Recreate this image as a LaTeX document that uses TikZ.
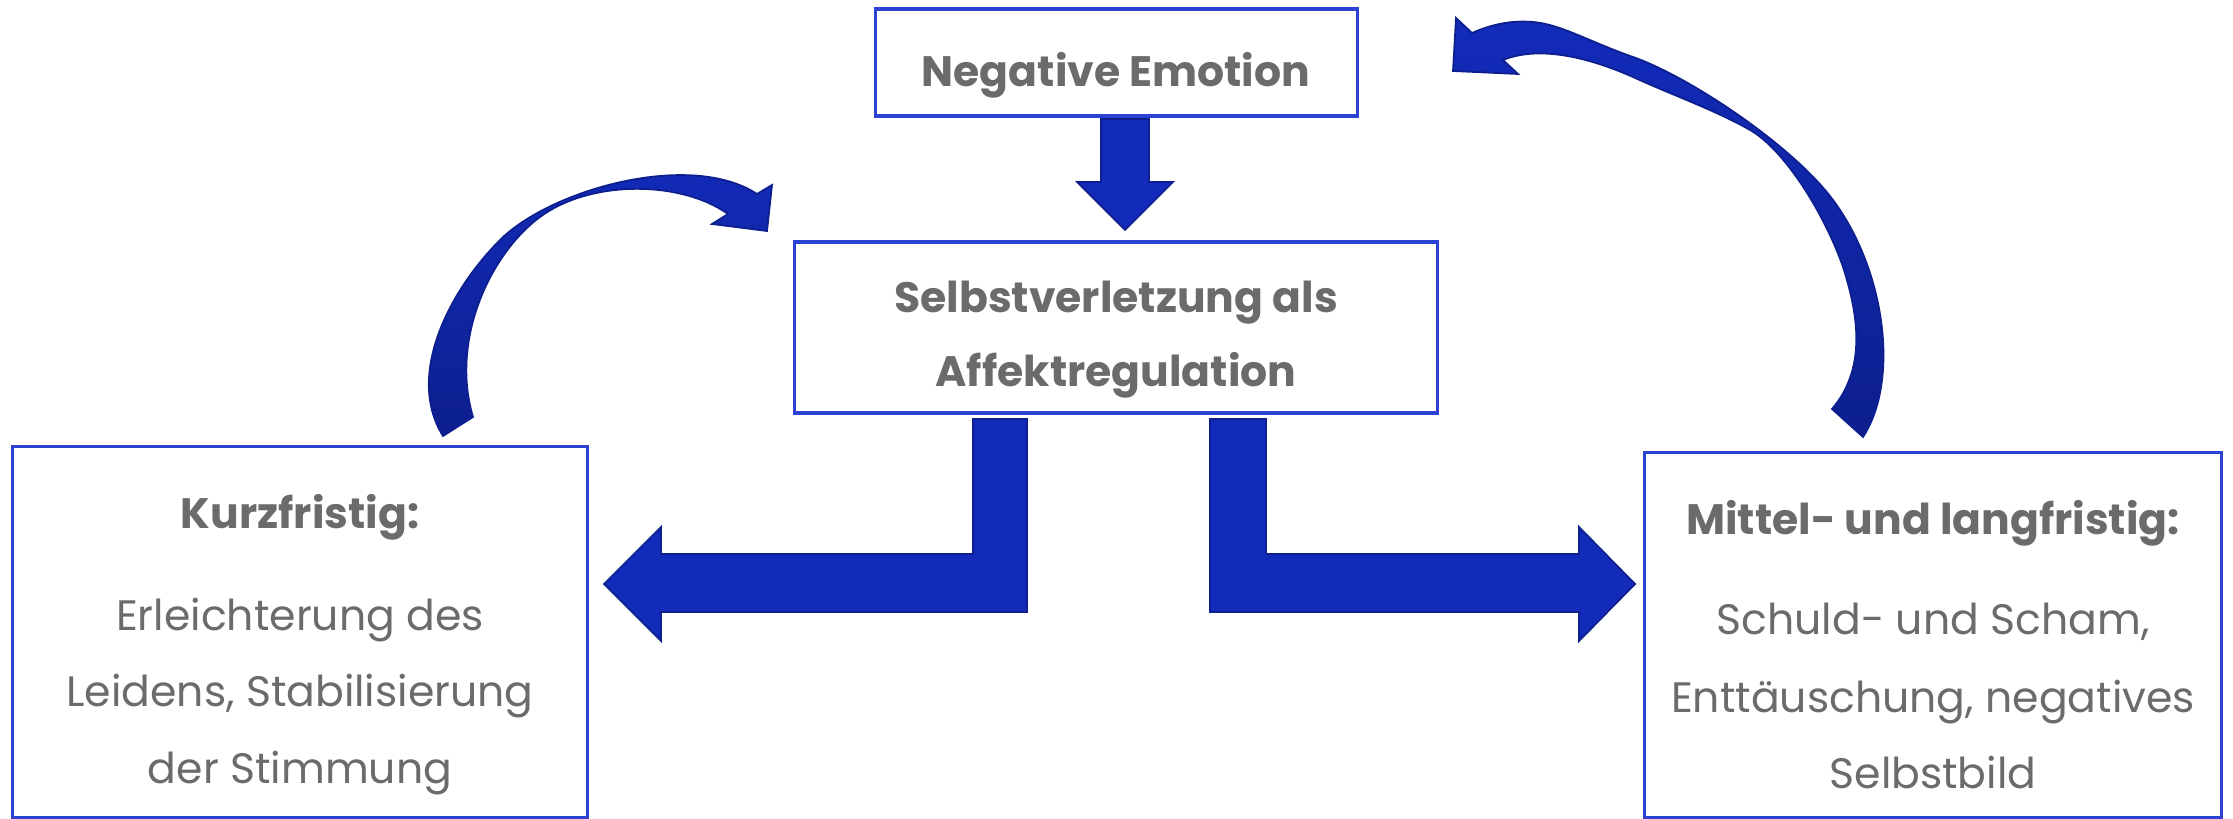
\documentclass[tikz,border=0pt]{standalone}
\usepackage{fontspec}
\setmainfont{Poppins}

\definecolor{boxline}{HTML}{2C42D2}
\definecolor{arrowfill}{HTML}{122BBA}
\definecolor{arrowdark}{HTML}{0D1F8E}
\definecolor{textgrey}{HTML}{6B6B6B}

\tikzset{
  box/.style={draw=boxline, line width=0.9pt, fill=white, inner sep=0pt},
  headtext/.style={anchor=base, text=textgrey, font=\fontsize{12.1}{15}\selectfont\bfseries},
  bodytext/.style={anchor=base, text=textgrey, font=\fontsize{12.1}{15}\selectfont},
  blockarrow/.style={fill=arrowfill, draw=arrowdark, line width=0.5pt, line join=miter},
  bentarrow/.style={top color=arrowfill, bottom color=arrowdark, draw=arrowdark, line width=0.5pt}
}

\begin{document}
\begin{tikzpicture}[x=0.01cm, y=-0.01cm]
\useasboundingbox (0,0) rectangle (2233,819);

% boxes
\node[box, minimum width=4.81cm, minimum height=1.07cm] (emotion) at (1116.5,62.5) {};
\node[box, minimum width=6.42cm, minimum height=1.71cm] (regulation) at (1116,327.5) {};
\node[box, minimum width=5.74cm, minimum height=3.70cm] (short) at (300,632) {};
\node[box, minimum width=5.76cm, minimum height=3.64cm] (long) at (1933,635) {};

% texts
\node[headtext] (emotiontext) at (1116,87) {Negative Emotion};
\node[headtext] (regtext1) at (1116,313) {Selbstverletzung als};
\node[headtext] (regtext2) at (1116,387) {Affektregulation};

\node[headtext] (shorthead) at (300,529) {Kurzfristig:};
\node[bodytext] (short1) at (300,631) {Erleichterung des};
\node[bodytext] (short2) at (300,707) {Leidens, Stabilisierung};
\node[bodytext] (short3) at (300,784) {der Stimmung};

\node[headtext] (longhead) at (1933,535) {Mittel- und langfristig:};
\node[bodytext] (long1) at (1933,635) {Schuld- und Scham,};
\node[bodytext] (long2) at (1933,712) {Enttäuschung, negatives};
\node[bodytext] (long3) at (1933,789) {Selbstbild};

% straight arrows
\draw[blockarrow] (1101,119) -- (1149,119) -- (1149,182) -- (1173,182) -- (1125,230)
  -- (1077,182) -- (1101,182) -- cycle;
\draw[blockarrow] (973,419) -- (1027,419) -- (1027,612) -- (661,612) -- (661,641)
  -- (604,584) -- (661,527) -- (661,554) -- (973,554) -- cycle;
\draw[blockarrow] (1266,419) -- (1210,419) -- (1210,612) -- (1579,612) -- (1579,641)
  -- (1635,584) -- (1579,527) -- (1579,554) -- (1266,554) -- cycle;

% curved arrows
\draw[bentarrow] (443,436) .. controls (405,375) and (450,290) .. (500,240)
  .. controls (550,190) and (690,150) .. (757,194)
  -- (772,185) -- (767,231) -- (712,224) -- (728,214)
  .. controls (680,180) and (590,180) .. (540,217)
  .. controls (490,254) and (450,340) .. (473,417) -- cycle;
\draw[bentarrow] (1863,437) .. controls (1900,380) and (1885,270) .. (1833,200)
  .. controls (1793,146) and (1690,77) .. (1633,57)
  .. controls (1590,42) and (1560,24) .. (1533,22)
  .. controls (1510,20) and (1490,25) .. (1472,33)
  -- (1456,18) -- (1453,71) -- (1518,74) -- (1503,60)
  .. controls (1540,45) and (1590,58) .. (1633,77)
  .. controls (1672,95) and (1715,110) .. (1750,130)
  .. controls (1785,150) and (1825,215) .. (1843,267)
  .. controls (1860,320) and (1865,370) .. (1832,409) -- cycle;

\end{tikzpicture}
\end{document}
